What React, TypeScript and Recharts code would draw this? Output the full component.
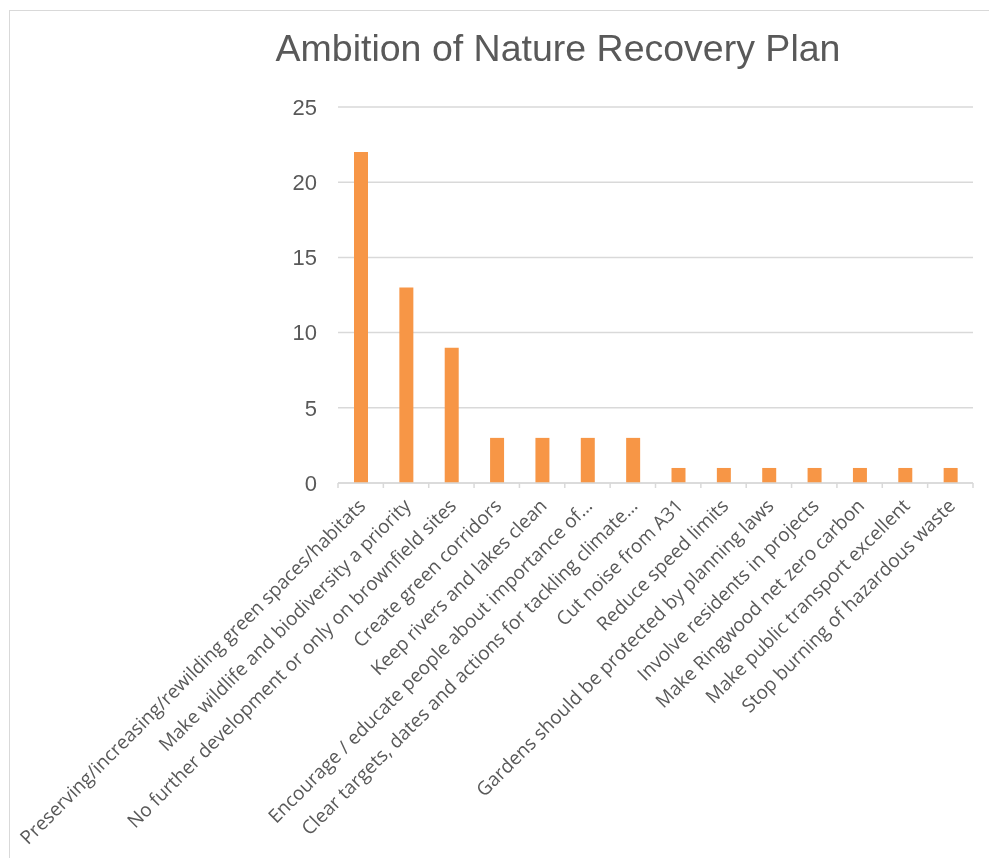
import React from 'react';
import { BarChart, Bar, XAxis, YAxis, CartesianGrid } from 'recharts';

const categories: string[] = [
  'Preserving/increasing/rewilding green spaces/habitats',
  'Make wildlife and biodiversity a priority',
  'No further development or only on brownfield sites',
  'Create green corridors',
  'Keep rivers and lakes clean',
  'Encourage / educate people about importance of…',
  'Clear targets, dates and actions for tackling climate…',
  'Cut noise from A31',
  'Reduce speed limits',
  'Gardens should be protected by planning laws',
  'Involve residents in projects',
  'Make Ringwood net zero carbon',
  'Make public transport excellent',
  'Stop burning of hazardous waste',
];

const responses: number[] = [22, 13, 9, 3, 3, 3, 3, 1, 1, 1, 1, 1, 1, 1];

const yTicks: number[] = [0, 5, 10, 15, 20, 25];

const title = 'Ambition of Nature Recovery Plan';

const data = categories.map((name, i) => ({ name, count: responses[i] }));

const CHART_W = 981;
const CHART_H = 842;
const MARGIN = { top: 99, right: 16, left: 0, bottom: 5 };
const Y_AXIS_W = 330;
const PLOT_W = CHART_W - MARGIN.left - MARGIN.right - Y_AXIS_W;
const TEXT = '#595959';
const GRID = '#d9d9d9';

function CategoryTick(props: any) {
  const { x, y, payload, index, visibleTicksCount } = props;
  const count = visibleTicksCount || categories.length;
  const half = PLOT_W / count / 2;
  const tx = x + 6;
  const ty = y + 19;
  return (
    <g>
      <line x1={x - half} x2={x - half} y1={y - 5} y2={y} stroke={GRID} strokeWidth={1.5} />
      {index === count - 1 && (
        <line x1={x + half} x2={x + half} y1={y - 5} y2={y} stroke={GRID} strokeWidth={1.5} />
      )}
      <text
        x={tx}
        y={ty}
        transform={`rotate(-45, ${tx}, ${ty})`}
        textAnchor="end"
        fill={TEXT}
        fontSize={19}
        fontFamily="'Open Sans', sans-serif"
      >
        {payload.value}
      </text>
    </g>
  );
}

export default function App() {
  return (
    <div style={{ position: 'relative', width: CHART_W, height: CHART_H }}>
      <div
        style={{
          position: 'fixed',
          left: 9,
          top: 10,
          width: 1100,
          height: 1000,
          border: `1.5px solid ${GRID}`,
          pointerEvents: 'none',
        }}
      />
      <div
        style={{
          position: 'absolute',
          left: 0,
          top: 21,
          width: 1100,
          textAlign: 'center',
          fontFamily: "'Liberation Sans', Arial, sans-serif",
          fontSize: 37.5,
          color: TEXT,
          lineHeight: '38px',
          whiteSpace: 'nowrap',
        }}
      >
        {title}
      </div>
      <BarChart width={CHART_W} height={CHART_H} data={data} margin={MARGIN}>
        <CartesianGrid vertical={false} stroke={GRID} strokeWidth={1.5} />
        <XAxis
          dataKey="name"
          interval={0}
          axisLine={{ stroke: GRID, strokeWidth: 1.5 }}
          tickLine={false}
          tickSize={5}
          tickMargin={0}
          height={CHART_H - MARGIN.top - MARGIN.bottom - 376}
          tick={<CategoryTick />}
        />
        <YAxis
          domain={[0, 25]}
          ticks={yTicks}
          interval={0}
          width={Y_AXIS_W}
          axisLine={false}
          tickLine={false}
          tickSize={0}
          tickMargin={21}
          tick={{ fill: TEXT, fontSize: 22, fontFamily: "'Liberation Sans', Arial, sans-serif" }}
        />
        <Bar dataKey="count" fill="#F79646" barSize={14} isAnimationActive={false} />
      </BarChart>
    </div>
  );
}
